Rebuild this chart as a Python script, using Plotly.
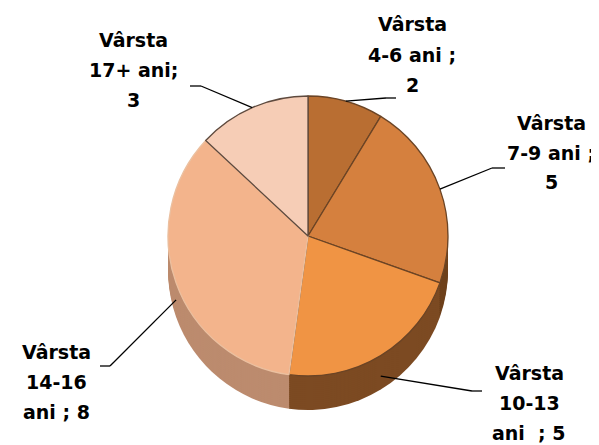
import math
import plotly.graph_objects as go

# ---------------- data ----------------
categories = ["Vârsta 4-6 ani", "Vârsta 7-9 ani", "Vârsta 10-13 ani",
              "Vârsta 14-16 ani", "Vârsta 17+ ani"]
values = [2, 5, 5, 8, 3]
label_templates = [
    ["Vârsta", "4-6 ani ;", "{v}"],
    ["Vârsta", "7-9 ani ;", "{v}"],
    ["Vârsta", "10-13", "ani  ; {v}"],
    ["Vârsta", "14-16", "ani ; {v}"],
    ["Vârsta", "17+ ani;", "{v}"],
]

# ---------------- styles ----------------
top_colors = ["#B96E32", "#D5803E", "#F09444", "#F3B48C", "#F6CDB6"]
side_colors = ["#7A4520", "#6E401C", "#7C4A22", "#BC8B6E", "#C9A58E"]
edge_colors = ["#6B4425", "#6B4425", "#6B4425", "#EBC0A0", "#5E4A3E"]

W, H = 599, 445
CX, CY, R = 300, 228, 140      # pie centre / radius in pixels
DEPTH = 34                      # faux 3D thickness in pixels
STEP = 2
TEXT_DY = -8                    # plotly text box vs cap-centre correction

# label layout (pixels): centre x, first-line y, line spacing, stub start, stub end
label_pos = [
    (404, 24, 30.5, (388, 90), (378, 90)),
    (543, 123, 29.5, (497, 160), (484, 160)),
    (521, 373, 30, (474, 383), (464, 383)),
    (48, 352, 30, (92, 358), (102, 358)),
    (125, 40, 30, (182, 78), (193, 78)),
]
# where on the slice the leader ends: 0 = top rim, 1 = bottom of side
leader_depth = [0, 0, 0.6, 0.5, 0]


def px(x, y):
    return x / W, 1 - y / H


def domain(cy):
    return dict(x=[(CX - R) / W, (CX + R) / W],
                y=[1 - (cy + R) / H, 1 - (cy - R) / H])


fig = go.Figure()

# side layers (deepest first)
for k in range(DEPTH, 0, -STEP):
    fig.add_trace(go.Pie(
        labels=categories, values=values, sort=False, direction="clockwise",
        rotation=0, domain=domain(CY + k), textinfo="none", hoverinfo="skip",
        marker=dict(colors=side_colors, line=dict(width=0)),
        showlegend=False,
    ))

# top face
fig.add_trace(go.Pie(
    labels=categories, values=values, sort=False, direction="clockwise",
    rotation=0, domain=domain(CY), textinfo="none",
    marker=dict(colors=top_colors, line=dict(color=edge_colors, width=1.3)),
    showlegend=False,
))

annotations = []
shapes = []
total = sum(values)
cum = 0
for i, v in enumerate(values):
    mid = (cum + v / 2) / total * 2 * math.pi
    cum += v
    cx_lab, y0, sp, s0, s1 = label_pos[i]
    for j, line in enumerate(label_templates[i]):
        x, y = px(cx_lab, y0 + j * sp + TEXT_DY)
        annotations.append(dict(
            x=x, y=y, xref="paper", yref="paper", text=line.format(v=v),
            showarrow=False, xanchor="center", yanchor="middle",
            font=dict(family="DejaVu Sans", size=19, color="#000000",
                      weight="bold"),
        ))
    # leader line end on slice
    ex = CX + R * math.sin(mid)
    ey = CY - R * math.cos(mid) + leader_depth[i] * DEPTH
    pts = [s0, s1, (ex, ey)]
    for a, b in zip(pts[:-1], pts[1:]):
        xa, ya = px(*a)
        xb, yb = px(*b)
        shapes.append(dict(type="line", xref="paper", yref="paper",
                           x0=xa, y0=ya, x1=xb, y1=yb,
                           line=dict(color="#000000", width=1.3)))

fig.update_layout(
    width=W, height=H, margin=dict(l=0, r=0, t=0, b=0),
    paper_bgcolor="#FFFFFF", plot_bgcolor="#FFFFFF",
    showlegend=False, annotations=annotations, shapes=shapes,
)

fig.write_html("out.html")
